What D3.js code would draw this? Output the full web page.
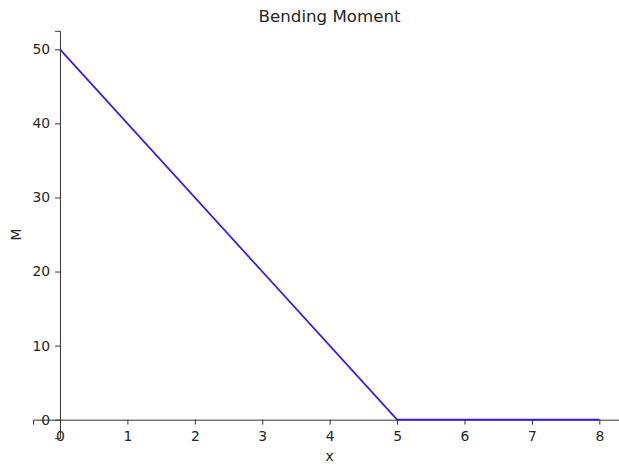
<!DOCTYPE html>
<html><head><meta charset="utf-8">
<script src="https://cdn.jsdelivr.net/npm/d3@7"></script>
<style>body{margin:0;background:#fff}svg{display:block}text{font-family:"DejaVu Sans",sans-serif;fill:#262626}</style>
</head><body>
<svg id="c" width="619" height="464"></svg>
<script>
const xValues = [0, 5, 8];
const mValues = [50, 0, 0];
const xTicks = [0, 1, 2, 3, 4, 5, 6, 7, 8];
const yTicks = [0, 10, 20, 30, 40, 50];
const title = "Bending Moment";
const xLabel = "x";
const yLabel = "M";

const svg = d3.select("#c");
const x = d3.scaleLinear().domain([-0.4, 8.4]).range([33.0, 626.3]);
const y = d3.scaleLinear().domain([-2.5, 52.5]).range([438.2, 30.8]);

const xAxis = d3.axisBottom(x).tickValues(xTicks).tickFormat(d3.format("d")).tickSize(4.9).tickPadding(6.2);
const gx = svg.append("g").attr("transform", `translate(0,${y(0)})`).call(xAxis);
const yAxis = d3.axisLeft(y).tickValues(yTicks).tickFormat(d3.format("d")).tickSize(4.9).tickPadding(4.9);
const gy = svg.append("g").attr("transform", `translate(${x(0)},0)`).call(yAxis);

[gx, gy].forEach(g => {
  g.selectAll(".domain").attr("stroke", "#333").attr("stroke-width", 1);
  g.selectAll(".tick line").attr("stroke", "#333").attr("stroke-width", 1);
  g.selectAll(".tick text").style("font-size", "13.9px").attr("fill", "#262626");
});

const line = d3.line().x((d, i) => x(xValues[i])).y(d => y(d));
svg.append("path").datum(mValues).attr("d", line)
  .attr("fill", "none").attr("stroke", "#3a14ff").attr("stroke-width", 1.7)
  .attr("stroke-linejoin", "round");

svg.append("text").attr("x", 329.6).attr("y", 22).attr("text-anchor", "middle")
  .style("font-size", "16.67px").text(title);
svg.append("text").attr("x", 329.6).attr("y", 461).attr("text-anchor", "middle")
  .style("font-size", "13.9px").text(xLabel);
svg.append("text").attr("transform", `translate(21,234.5) rotate(-90)`).attr("text-anchor", "middle")
  .style("font-size", "13.9px").text(yLabel);
</script>
</body></html>
